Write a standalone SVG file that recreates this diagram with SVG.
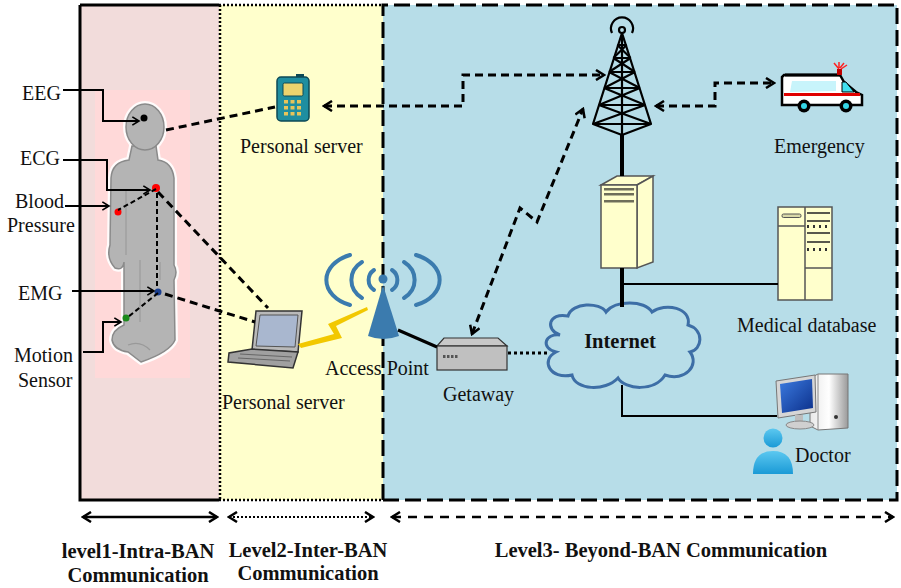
<svg xmlns="http://www.w3.org/2000/svg" width="901" height="588" viewBox="0 0 901 588">
  <defs>
    <style>
      .lbl { font-family: "Liberation Serif", "Times New Roman", serif; font-size: 20px; fill: #111; }
      .blbl { font-family: "Liberation Serif", "Times New Roman", serif; font-size: 20.5px; font-weight: bold; fill: #111; }
      .solid { stroke: #000; stroke-width: 2; fill: none; }
      .dash { stroke: #000; stroke-width: 3; fill: none; stroke-dasharray: 8 5; }
      .dot { stroke: #000; stroke-width: 3; fill: none; stroke-dasharray: 3 3; }
      .thick { stroke: #000; stroke-width: 4; fill: none; }
      .beige { fill: #ffffcc; stroke: #555; stroke-width: 1.5; }
    </style>
    <marker id="chev" viewBox="0 0 12 12" refX="10" refY="6" markerWidth="12" markerHeight="12" markerUnits="userSpaceOnUse" orient="auto-start-reverse">
      <path d="M2,1 L10,6 L2,11" fill="none" stroke="#000" stroke-width="2.5"/>
    </marker>
    <marker id="chevS" viewBox="0 0 12 12" refX="10" refY="6" markerWidth="10" markerHeight="10" markerUnits="userSpaceOnUse" orient="auto-start-reverse">
      <path d="M2,1 L10,6 L2,11" fill="none" stroke="#000" stroke-width="2"/>
    </marker>
    <linearGradient id="scr" x1="0" y1="0" x2="1" y2="1">
      <stop offset="0" stop-color="#3c7be0"/>
      <stop offset="1" stop-color="#0b2f8a"/>
    </linearGradient>
    <linearGradient id="case" x1="0" y1="0" x2="1" y2="0">
      <stop offset="0" stop-color="#e8e8e8"/>
      <stop offset="0.5" stop-color="#ffffff"/>
      <stop offset="1" stop-color="#9a9a9a"/>
    </linearGradient>
    <linearGradient id="person" x1="0" y1="0" x2="0" y2="1">
      <stop offset="0" stop-color="#5cc8f0"/>
      <stop offset="1" stop-color="#1a9ad6"/>
    </linearGradient>
  </defs>

  <!-- background panels -->
  <rect x="0" y="0" width="901" height="588" fill="#ffffff"/>
  <g id="zone-level1">
    <rect x="80" y="5" width="139" height="495" fill="#f2dcdb"/>
    <rect x="95" y="90" width="95" height="288" fill="#ffd9d9"/>
    <path d="M80,5 V500 H219 M80,5 H219" stroke="#000" stroke-width="3" fill="none"/>
  </g>
  <g id="zone-level2">
    <rect x="219" y="5" width="164" height="495" fill="#ffffcc"/>
    <path d="M219,5 H383 M219,500 H383 M220,5 V500" stroke="#000" stroke-width="2.5" stroke-dasharray="2 2" fill="none"/>
  </g>
  <g id="zone-level3">
    <rect x="383" y="5" width="514" height="495" fill="#b7dde8"/>
    <path d="M383,500 V5 H897 V500 H383" stroke="#000" stroke-width="3" stroke-dasharray="16 6" fill="none"/>
  </g>

  <!-- body figure -->
  <g id="body">
    <g stroke="#ffffff" stroke-width="6" fill="none" opacity="0.9">
      <ellipse cx="145" cy="127" rx="19" ry="23"/>
      <path d="M132,146 L129,160 Q112,162 111,178 L110,245 Q106,258 115,268 Q123,271 124,262 L124,325 Q112,330 112,340 Q114,350 128,352 L141,362 Q170,352 175,340 L174,280 Q178,272 174,265 L174,178 Q172,162 158,160 L156,146 Z"/>
    </g>
    <path d="M132,146 L129,160 Q112,162 111,178 L110,245 Q106,258 115,268 Q123,271 124,262 L124,325 Q112,330 112,340 Q114,350 128,352 L141,362 Q170,352 175,340 L174,280 Q178,272 174,265 L174,178 Q172,162 158,160 L156,146 Z" fill="#b4b4b4" stroke="#8a8a8a" stroke-width="1.5"/>
    <ellipse cx="145" cy="127" rx="19" ry="23" fill="#b4b4b4" stroke="#8a8a8a" stroke-width="1.5"/>
    <path d="M126,190 V255 M140,260 V322 M160,262 V280" stroke="#a0a0a0" stroke-width="1.5" fill="none"/>
    <path d="M128,345 Q140,340 150,350" stroke="#999" stroke-width="1.2" fill="none"/>
  </g>

  <!-- sensors -->
  <g id="sensor-eeg"><circle cx="144" cy="118" r="3.5" fill="#000"/></g>
  <g id="sensor-ecg"><circle cx="156" cy="188" r="4" fill="#ff0000"/></g>
  <g id="sensor-bp"><circle cx="118" cy="212" r="3.5" fill="#ff0000"/></g>
  <g id="sensor-emg"><circle cx="158" cy="292" r="3.5" fill="#1a3f8f"/></g>
  <g id="sensor-motion"><circle cx="126" cy="318" r="3.5" fill="#1b8a1b"/></g>

  <!-- sensor labels -->
  <g id="label-eeg"><text class="lbl" x="22" y="100">EEG</text></g>
  <g id="label-ecg"><text class="lbl" x="20" y="165">ECG</text></g>
  <g id="label-bp"><text class="lbl" x="15" y="208">Blood</text><text class="lbl" x="7" y="232">Pressure</text></g>
  <g id="label-emg"><text class="lbl" x="18" y="300">EMG</text></g>
  <g id="label-motion"><text class="lbl" x="14" y="362">Motion</text><text class="lbl" x="18" y="387">Sensor</text></g>

  <!-- personal server (phone) -->
  <g id="phone">
    <rect x="277" y="77" width="32" height="44" rx="4" fill="#1f8ea0" stroke="#0e4a56" stroke-width="1.5"/>
    <rect x="296" y="74" width="8" height="3" fill="#0e4a56"/>
    <rect x="283" y="83" width="20" height="13" rx="1.5" fill="#ecd36e" stroke="#0e4a56" stroke-width="1"/>
    <g fill="#e7c45a">
      <rect x="284" y="100" width="4" height="3.5"/><rect x="290.5" y="100" width="4" height="3.5"/><rect x="297" y="100" width="4" height="3.5"/>
      <rect x="284" y="106" width="4" height="3.5"/><rect x="290.5" y="106" width="4" height="3.5"/><rect x="297" y="106" width="4" height="3.5"/>
      <rect x="284" y="112" width="4" height="3.5"/><rect x="290.5" y="112" width="4" height="3.5"/><rect x="297" y="112" width="4" height="3.5"/>
    </g>
    <text class="lbl" x="240" y="153">Personal server</text>
  </g>

  <!-- personal server (laptop) -->
  <g id="laptop">
    <polygon points="256,311 302,311 298,352 252,350" fill="#b9b9b9" stroke="#333" stroke-width="1.5"/>
    <polygon points="260,315 298,315 295,347 256,346" fill="#a9b7cf" stroke="#555" stroke-width="1"/>
    <polygon points="252,349 298,352 293,368 228,362 229,353" fill="#a0a0a0" stroke="#333" stroke-width="1.5"/>
    <path d="M240,354 L292,357 M238,358 L290,361" stroke="#666" stroke-width="1" fill="none"/>
    <text class="lbl" x="222" y="409">Personal server</text>
  </g>

  <!-- wireless link -->
  <polygon points="298,344 334,334 328,324 367,307 368,310 336,326 342,338 301,348" fill="#f2c800"/>

  <!-- access point -->
  <g id="access-point">
    <g fill="none" stroke="#3b7bae" stroke-width="4" stroke-linecap="round">
      <path d="M374,270 A12,12 0 0 0 374,290"/>
      <path d="M392,270 A12,12 0 0 1 392,290"/>
      <path d="M362,262 A25,22 0 0 0 362,298"/>
      <path d="M404,262 A25,22 0 0 1 404,298"/>
      <path d="M350,255 A38,27 0 0 0 350,305"/>
      <path d="M416,255 A38,27 0 0 1 416,305"/>
    </g>
    <circle cx="383" cy="279" r="4.5" fill="#3b7bae"/>
    <path d="M383,285 L368,336 Q383,342 399,336 Z" fill="#3b7bae"/>
    <text class="lbl" x="325" y="375">Access Point</text>
  </g>

  <!-- gateway -->
  <g id="gateway">
    <polygon points="437,346 444,338 498,338 507,346" fill="#c8c8c8" stroke="#333" stroke-width="1.2"/>
    <rect x="437" y="346" width="70" height="24" fill="#c0c0c0" stroke="#333" stroke-width="1.2"/>
    <g fill="#555"><rect x="443" y="355" width="2.5" height="3"/><rect x="447" y="355" width="2.5" height="3"/><rect x="451" y="355" width="2.5" height="3"/><rect x="455" y="355" width="2.5" height="3"/></g>
    <text class="lbl" x="443" y="401">Getaway</text>
  </g>

  <!-- internet cloud -->
  <g id="internet">
    <path d="M560,335 C545,330 548,312 568,316 C572,302 600,302 606,312 C615,300 645,300 652,312 C665,302 692,308 688,325 C705,330 702,350 690,352 C700,365 685,382 665,375 C655,392 625,390 618,378 C605,392 575,390 572,375 C550,380 540,360 556,352 C540,348 545,333 560,335 Z" fill="#b7dde8" stroke="#3d6ea6" stroke-width="3"/>
    <text class="blbl" x="620" y="348" text-anchor="middle">Internet</text>
  </g>

  <!-- tower -->
  <g id="tower" stroke="#000" stroke-width="2.2" fill="none" stroke-linejoin="round">
    <circle cx="622" cy="30" r="3"/>
    <path d="M612,33 A11,11 0 1 1 632,33"/>
    <path d="M622,33 L593,124 L622,135 L651,124 Z M622,33 V135"/>
    <path d="M617.4,45 H626.6 M613.4,58 H630.6 M609,72 H635 M604.1,88 H639.9 M598.9,105 H645.1 M593,124 H651"/>
    <path d="M617.4,45 L630.6,58 M626.6,45 L613.4,58 M613.4,58 L635,72 M630.6,58 L609,72 M609,72 L639.9,88 M635,72 L604.1,88 M604.1,88 L645.1,105 M639.9,88 L598.9,105 M598.9,105 L651,124 M645.1,105 L593,124"/>
  </g>

  <!-- ambulance -->
  <g id="ambulance" transform="translate(782,62)">
    <path d="M2,13 L58,13 L62,20 L74,30 L80,33 L80,43 L0,43 L0,15 Z" fill="#ffffff" stroke="#000" stroke-width="2.5"/>
    <path d="M3,13 H58" stroke="#000" stroke-width="3"/>
    <polygon points="10,19 54,19 54,29 8,30" fill="#c8f4fb"/>
    <polygon points="60,20 64,20 72,30 60,30" fill="#40e0f0" stroke="#000" stroke-width="1"/>
    <rect x="72" y="31" width="4" height="3" fill="#000"/>
    <rect x="2" y="31" width="76" height="3" fill="#e00000"/>
    <rect x="55" y="7" width="5" height="6" fill="#c00000"/>
    <path d="M57,7 L52,1 M57,6 L57,0 M58,6 L62,1 M59,7 L65,3" stroke="#ff2020" stroke-width="1.5"/>
    <circle cx="22" cy="44" r="6.5" fill="#000"/><circle cx="22" cy="44" r="3" fill="#35d6e6"/>
    <circle cx="64" cy="44" r="6.5" fill="#000"/><circle cx="64" cy="44" r="3" fill="#35d6e6"/>
    <text class="lbl" x="-8" y="91">Emergency</text>
  </g>

  <!-- server -->
  <g id="server">
    <polygon points="601,185 617,176 653,176 637,185" class="beige"/>
    <polygon points="637,185 653,176 653,262 637,268" class="beige"/>
    <rect x="601" y="185" width="36" height="83" class="beige"/>
    <g fill="#6e6e5a"><rect x="604" y="188" width="30" height="2.5"/><rect x="604" y="193" width="30" height="2.5"/><rect x="604" y="200" width="30" height="2.5"/></g>
  </g>

  <!-- medical database -->
  <g id="database">
    <rect x="778" y="207" width="54" height="93" class="beige"/>
    <path d="M805,207 V300 M778,226 H805 M805,268 H832" stroke="#555" stroke-width="1.5"/>
    <rect x="782" y="214" width="19" height="3.5" rx="1.5" fill="#d8d8a8" stroke="#555" stroke-width="1"/>
    <path d="M807,213 H830 M807,221 H830 M807,233 H830 M807,242 H830" stroke="#222" stroke-width="1.5"/>
    <g fill="#333">
      <rect x="807" y="225" width="2" height="3"/><rect x="813" y="225" width="2" height="3"/><rect x="819" y="225" width="2" height="3"/><rect x="825" y="225" width="2" height="3"/>
      <rect x="807" y="248" width="2" height="3"/><rect x="813" y="248" width="2" height="3"/><rect x="819" y="248" width="2" height="3"/><rect x="825" y="248" width="2" height="3"/>
    </g>
    <text class="lbl" x="737" y="332">Medical database</text>
  </g>

  <!-- doctor workstation -->
  <g id="doctor">
    <polygon points="810,378 818,374 848,374 848,428 818,430 810,426" fill="url(#case)" stroke="#777" stroke-width="1"/>
    <path d="M818,374 V430" stroke="#888" stroke-width="1"/>
    <circle cx="836" cy="417" r="2" fill="#333"/>
    <polygon points="776,381 815,375 816,412 778,418" fill="#d6d6d6" stroke="#777" stroke-width="1"/>
    <polygon points="780,384 812,379 813,408 782,413" fill="url(#scr)"/>
    <rect x="795" y="415" width="8" height="8" fill="#bdbdbd"/>
    <ellipse cx="800" cy="425" rx="14" ry="4" fill="#d0d0d0" stroke="#888" stroke-width="1"/>
    <circle cx="773" cy="438" r="9.5" fill="url(#person)"/>
    <path d="M753,474 Q753,451 773,451 Q793,451 793,474 Z" fill="url(#person)"/>
    <text class="lbl" x="795" y="462">Doctor</text>
  </g>

  <!-- connectors -->
  <g id="connectors">
    <!-- sensor pointers -->
    <path class="solid" d="M63,90 H103 V121 H139" marker-end="url(#chevS)"/>
    <path class="solid" d="M63,160 H107 V190 H150" marker-end="url(#chevS)"/>
    <path class="solid" d="M65,206 H109" marker-end="url(#chevS)"/>
    <path class="solid" d="M72,291 H154" marker-end="url(#chevS)"/>
    <path class="solid" d="M83,352 H103 V322 H121" marker-end="url(#chevS)"/>
    <!-- on-body links -->
    <path d="M156,189 L118,210 M157,193 V288 M158,293 L128,317" stroke="#000" stroke-width="2" stroke-dasharray="5 3" fill="none"/>
    <!-- body to personal servers -->
    <path class="dash" d="M166,130 L275,107"/>
    <path class="dash" d="M158,192 L268,308"/>
    <path class="dash" d="M165,294 L255,322"/>
    <!-- phone to tower -->
    <path class="dash" d="M324,106 H463 V75 H604" marker-start="url(#chev)" marker-end="url(#chev)"/>
    <!-- tower to ambulance -->
    <path class="dash" d="M656,106 H715 V83 H774" marker-start="url(#chev)" marker-end="url(#chev)"/>
    <!-- gateway to tower -->
    <path class="dash" d="M472,334 L520,208 L537,222 L583,109" marker-start="url(#chev)" marker-end="url(#chev)"/>
    <!-- wired links -->
    <path class="thick" d="M622,135 V176 M622,268 V307"/>
    <path class="solid" d="M622,284 H778"/>
    <path class="solid" d="M622,385 V416 H777"/>
    <path stroke="#000" stroke-width="3" fill="none" d="M398,330 L437,347"/>
    <path class="dot" d="M508,353 H548"/>
  </g>

  <!-- level scope arrows -->
  <g id="scopes">
    <path d="M83,517 H217" stroke="#000" stroke-width="2.5" fill="none" marker-start="url(#chev)" marker-end="url(#chev)"/>
    <path d="M229,517 H373" stroke="#000" stroke-width="2" stroke-dasharray="2 2" fill="none" marker-start="url(#chev)" marker-end="url(#chev)"/>
    <path d="M392,517 H893" stroke="#000" stroke-width="2.5" stroke-dasharray="9 7" fill="none" marker-start="url(#chev)" marker-end="url(#chev)"/>
  </g>

  <g id="level-labels">
    <text class="blbl" x="138" y="558" text-anchor="middle">level1-Intra-BAN</text>
    <text class="blbl" x="138" y="582" text-anchor="middle">Communication</text>
    <text class="blbl" x="308" y="557" text-anchor="middle">Level2-Inter-BAN</text>
    <text class="blbl" x="308" y="580" text-anchor="middle">Communication</text>
    <text class="blbl" x="661" y="557" text-anchor="middle">Level3- Beyond-BAN Communication</text>
  </g>
</svg>
